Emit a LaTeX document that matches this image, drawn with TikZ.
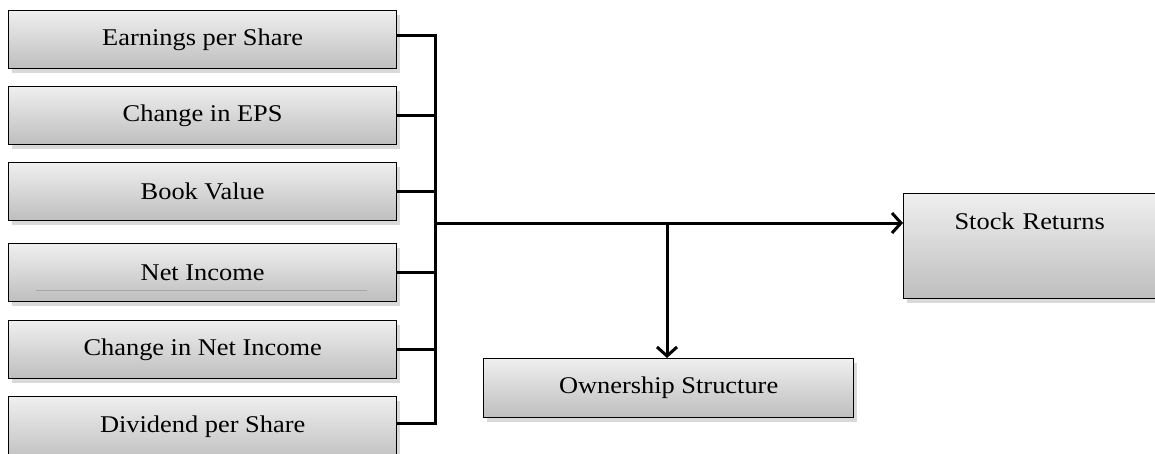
\documentclass[tikz,border=0pt]{standalone}
\usepackage{fontspec}
\setmainfont{Liberation Serif}[FakeStretch=1.1]
\usetikzlibrary{arrows.meta,shadows}
\definecolor{boxtop}{HTML}{EFEFEF}
\definecolor{boxbot}{HTML}{BEBEBE}
\tikzset{
  box/.style={draw=black, line width=1.3pt, top color=boxtop, bottom color=boxbot,
    drop shadow={shadow xshift=3pt, shadow yshift=-4pt, opacity=0.3, fill=gray},
    inner sep=0pt, font=\fontsize{24}{28}\selectfont, anchor=north west},
  conn/.style={line width=3pt},
  arr/.style={line width=3pt, -{Straight Barb[length=9pt,width=20pt,line width=3pt]}}
}
\begin{document}
\begin{tikzpicture}[x=1pt,y=-1pt]
\useasboundingbox (0,0) rectangle (1155,453);
\clip (0,0) rectangle (1155,453);
\node[box, minimum width=388pt, minimum height=58pt] (b1) at (8,10) {Earnings per Share};
\node[box, minimum width=388pt, minimum height=58pt] (b2) at (8,86) {Change in EPS};
\node[box, minimum width=388pt, minimum height=58pt] (b3) at (8,162) {Book Value};
\node[box, minimum width=388pt, minimum height=58pt] (b4) at (8,243) {Net Income};
\node[box, minimum width=388pt, minimum height=58pt] (b5) at (8,320) {Change in Net Income};
\node[box, minimum width=388pt, minimum height=66pt, text depth=5pt] (b6) at (8,396) {\raisebox{6pt}{Dividend per Share}};
\draw[gray!70, line width=0.6pt] (36,290) -- (367,290);
\node[box, minimum width=370pt, minimum height=59pt] (own) at (483,358) {Ownership Structure};
\node[box, minimum width=252pt, text height=36pt, text depth=69pt, text width=252pt, align=center] (sr) at (903,193) {Stock Returns};
\coordinate (bt) at (435,35);
\coordinate (bb) at (435,423);
\coordinate (jm) at (435,223);
\coordinate (jo) at (667,223);
\draw[conn] (b1.east |- bt) -- (bt) -- (bb) -- (b6.east |- bb);
\foreach \n in {b2,b3,b4,b5} \draw[conn] (\n.east) -- (\n.east -| bt);
\draw[arr] (jm) -- (sr.west |- jm);
\draw[arr] (jo) -- (jo |- own.north);
\end{tikzpicture}
\end{document}
